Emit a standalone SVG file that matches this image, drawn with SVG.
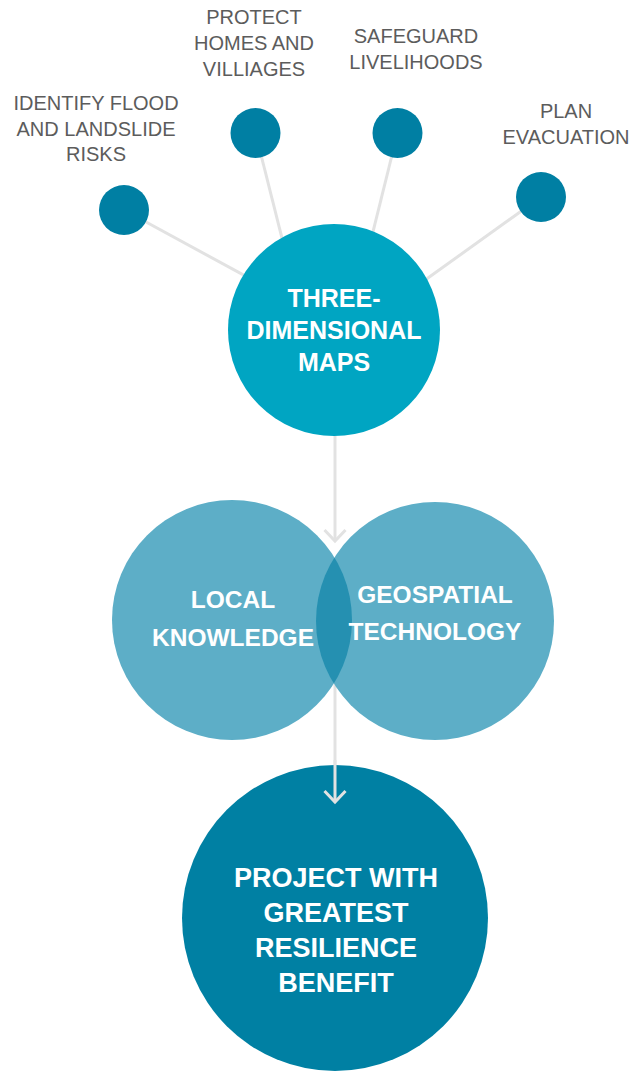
<svg xmlns="http://www.w3.org/2000/svg" width="640" height="1071" viewBox="0 0 640 1071">
<defs>
<style>
.lbl{font-family:"Liberation Sans",Arial,sans-serif;font-size:20px;fill:#5c5c5c;text-anchor:middle}
.wt{font-family:"Liberation Sans",Arial,sans-serif;font-weight:bold;fill:#ffffff;text-anchor:middle}
.conn{stroke:#e2e2e2;stroke-width:3;fill:none}
.dot{fill:#007fa3}
</style>
<clipPath id="clipL"><circle cx="232" cy="620" r="120"/></clipPath>
</defs>
<rect width="640" height="1071" fill="#ffffff"/>
<g id="connectors">
<line class="conn" x1="124" y1="210" x2="260" y2="284"/>
<line class="conn" x1="255.5" y1="133" x2="287.5" y2="260"/>
<line class="conn" x1="397.5" y1="133" x2="366" y2="260"/>
<line class="conn" x1="541" y1="197" x2="400" y2="298"/>
<line class="conn" x1="335" y1="420" x2="335" y2="541"/>
<polyline class="conn" points="324.5,530 335,541 345.5,530"/>
<line class="conn" x1="335" y1="620" x2="335" y2="802"/>
</g>
<g id="node-identify">
<circle class="dot" cx="124" cy="210" r="25"/>
<text class="lbl" x="96" y="110">IDENTIFY FLOOD</text>
<text class="lbl" x="96" y="136">AND LANDSLIDE</text>
<text class="lbl" x="96" y="161">RISKS</text>
</g>
<g id="node-protect">
<circle class="dot" cx="255.5" cy="133" r="25"/>
<text class="lbl" x="254" y="24">PROTECT</text>
<text class="lbl" x="254" y="50">HOMES AND</text>
<text class="lbl" x="254" y="76">VILLIAGES</text>
</g>
<g id="node-safeguard">
<circle class="dot" cx="397.5" cy="133" r="25"/>
<text class="lbl" x="416" y="43">SAFEGUARD</text>
<text class="lbl" x="416" y="69">LIVELIHOODS</text>
</g>
<g id="node-plan">
<circle class="dot" cx="541" cy="197" r="25"/>
<text class="lbl" x="566" y="118">PLAN</text>
<text class="lbl" x="566" y="144">EVACUATION</text>
</g>
<g id="node-maps">
<circle cx="334" cy="330" r="106" fill="#00a5c2"/>
<text class="wt" font-size="25" x="334" y="307">THREE-</text>
<text class="wt" font-size="25" x="334" y="339">DIMENSIONAL</text>
<text class="wt" font-size="25" x="334" y="371">MAPS</text>
</g>
<g id="node-local">
<circle cx="232" cy="620" r="120" fill="#5daec7"/>
</g>
<g id="node-geo">
<circle cx="435" cy="621" r="119" fill="#5daec7"/>
<circle cx="435" cy="621" r="119" fill="#2590b1" clip-path="url(#clipL)"/>
</g>
<g id="venn-labels">
<text class="wt" font-size="24.5" x="233" y="608">LOCAL</text>
<text class="wt" font-size="24.5" x="233" y="646">KNOWLEDGE</text>
<text class="wt" font-size="24.5" x="435" y="603">GEOSPATIAL</text>
<text class="wt" font-size="24.5" x="435" y="640">TECHNOLOGY</text>
</g>
<g id="node-project">
<circle cx="335" cy="918" r="153" fill="#0080a3"/>
<text class="wt" font-size="27" x="336" y="887">PROJECT WITH</text>
<text class="wt" font-size="27" x="336" y="922">GREATEST</text>
<text class="wt" font-size="27" x="336" y="957">RESILIENCE</text>
<text class="wt" font-size="27" x="336" y="992">BENEFIT</text>
</g>
<g id="arrow2">
<line class="conn" x1="335" y1="760" x2="335" y2="802"/>
<polyline class="conn" points="324.5,791 335,802 345.5,791"/>
</g>
</svg>
